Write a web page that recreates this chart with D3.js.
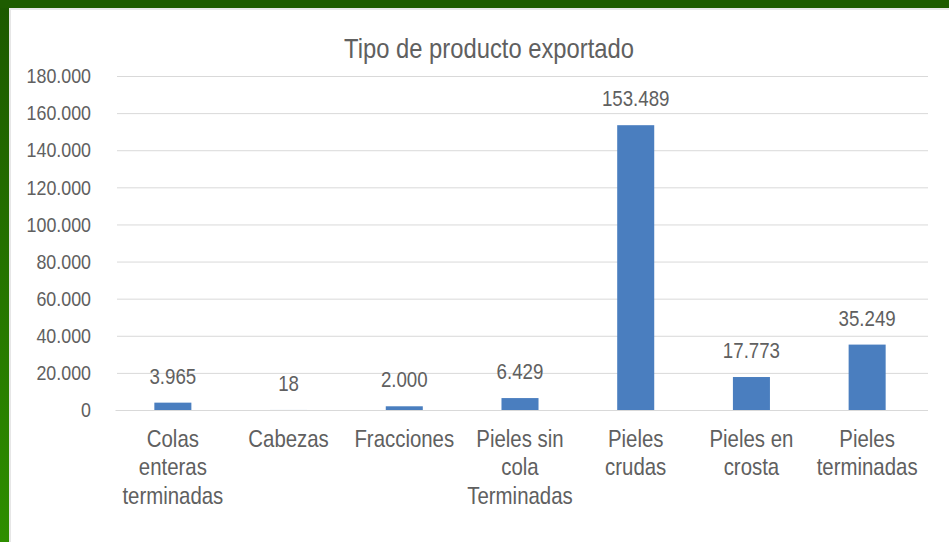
<!DOCTYPE html>
<html>
<head>
<meta charset="utf-8">
<script src="https://cdn.jsdelivr.net/npm/d3@7"></script>
<style>
  html, body { margin: 0; padding: 0; background: #fff; }
  svg { display: block; }
  text { font-family: 'Liberation Sans', Arial, sans-serif; fill: #606060; }
</style>
</head>
<body>
<svg id="chart" width="949" height="542"></svg>
<script>
const title = "Tipo de producto exportado";
const categories = [
  "Colas\nenteras\nterminadas",
  "Cabezas",
  "Fracciones",
  "Pieles sin\ncola\nTerminadas",
  "Pieles\ncrudas",
  "Pieles en\ncrosta",
  "Pieles\nterminadas"
];
const values = [3965, 18, 2000, 6429, 153489, 17773, 35249];
const valueLabels = ["3.965", "18", "2.000", "6.429", "153.489", "17.773", "35.249"];
const yTicks = [0, 20000, 40000, 60000, 80000, 100000, 120000, 140000, 160000, 180000];

const SX = 0.85; // horizontal condensation of the text
const svg = d3.select("#chart");
const W = 949, H = 542;

// frame
const defs = svg.append("defs");
const grad = defs.append("linearGradient").attr("id", "lg").attr("x1", 0).attr("y1", 0).attr("x2", 0).attr("y2", 1);
grad.append("stop").attr("offset", "0%").attr("stop-color", "#1c5800");
grad.append("stop").attr("offset", "100%").attr("stop-color", "#2e8e00");
svg.append("rect").attr("x", 0).attr("y", 0).attr("width", W).attr("height", H).attr("fill", "#ffffff");
svg.append("rect").attr("x", 9).attr("y", 8).attr("width", 2).attr("height", H - 8).attr("fill", "#e6e6e6");
svg.append("rect").attr("x", 9).attr("y", 8).attr("width", W - 9).attr("height", 2).attr("fill", "#e8e8e8");
svg.append("rect").attr("x", 0).attr("y", 0).attr("width", 9).attr("height", H).attr("fill", "url(#lg)");
svg.append("rect").attr("x", 0).attr("y", 0).attr("width", W).attr("height", 8).attr("fill", "#1e5c00");

const y = d3.scaleLinear().domain([0, 180000]).range([410, 76]);
const x = d3.scaleBand().domain(categories).range([115, 925]).paddingInner(0.68).paddingOuter(0.34);

const fmt = v => d3.format(",")(v).replace(/,/g, ".");

// gridlines + y labels via axis
const gAxis = svg.append("g").attr("transform", "translate(117,0)")
  .call(d3.axisLeft(y).tickValues(yTicks).tickSize(-811).tickFormat(fmt));
gAxis.select(".domain").remove();
gAxis.selectAll(".tick line").attr("stroke", "#d9d9d9").attr("stroke-width", 1);
gAxis.selectAll(".tick text").attr("font-size", 21).attr("fill", "#606060")
  .attr("x", -26 / SX).attr("transform", `scale(${SX},1)`);

// bars
svg.append("g").selectAll("rect").data(values).join("rect")
  .attr("x", (d, i) => x(categories[i]))
  .attr("width", x.bandwidth())
  .attr("y", d => y(d))
  .attr("height", d => Math.max(0, y(0) - y(d)))
  .attr("fill", "#4a7ebf");

// value labels
svg.append("g").selectAll("text").data(values).join("text")
  .attr("transform", `scale(${SX},1)`)
  .attr("x", (d, i) => (x(categories[i]) + x.bandwidth() / 2) / SX)
  .attr("y", d => y(d) - 19)
  .attr("text-anchor", "middle")
  .attr("font-size", 22)
  .text((d, i) => valueLabels[i]);

// category labels
const xAxis = svg.append("g").attr("transform", "translate(0,410)")
  .call(d3.axisBottom(x).tickSize(0).tickFormat(""));
xAxis.select(".domain").attr("stroke", "#d9d9d9");
xAxis.selectAll(".tick").each(function(d) {
  const t = d3.select(this).append("text").attr("text-anchor", "middle").attr("font-size", 24)
    .attr("fill", "#606060").attr("transform", `scale(${SX},1)`);
  d.split("\n").forEach((line, i) => {
    t.append("tspan").attr("x", 0).attr("y", 37 + i * 28.5).text(line);
  });
});

// title
svg.append("text").attr("transform", `scale(${SX},1)`)
  .attr("x", 489 / SX).attr("y", 58).attr("text-anchor", "middle")
  .attr("font-size", 28).text(title);
</script>
</body>
</html>
